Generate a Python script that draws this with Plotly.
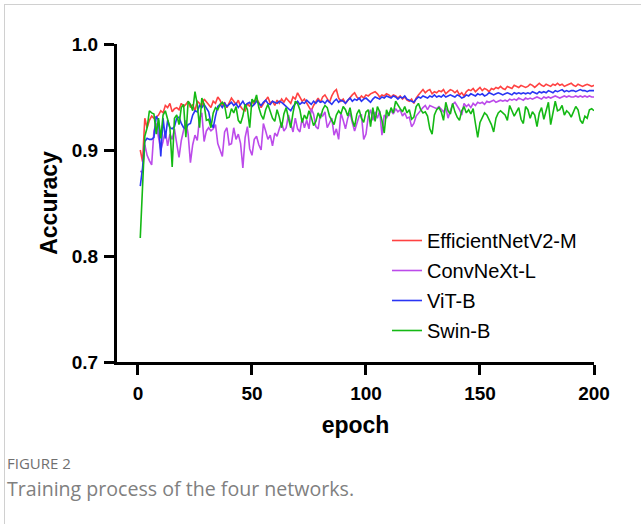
import plotly.graph_objects as go

epochs = list(range(1, 201))

efficientnet = [
    0.900, 0.889, 0.930, 0.921, 0.928, 0.932, 0.930, 0.931, 0.933, 0.937,
    0.935, 0.942, 0.940, 0.944, 0.936, 0.939, 0.940, 0.938, 0.944, 0.941,
    0.943, 0.946, 0.940, 0.943, 0.937, 0.946, 0.944, 0.941, 0.948, 0.945,
    0.943, 0.940, 0.946, 0.944, 0.950, 0.947, 0.942, 0.945, 0.940, 0.944,
    0.949, 0.946, 0.943, 0.947, 0.941, 0.938, 0.937, 0.944, 0.941, 0.946,
    0.943, 0.948, 0.945, 0.940, 0.944, 0.947, 0.950, 0.944, 0.946, 0.942,
    0.947, 0.944, 0.948, 0.945, 0.949, 0.946, 0.944, 0.950, 0.948, 0.954,
    0.950, 0.946, 0.948, 0.944, 0.940, 0.937, 0.942, 0.946, 0.949, 0.945,
    0.950, 0.952, 0.948, 0.945, 0.951, 0.955, 0.957, 0.949, 0.946, 0.948,
    0.944, 0.947, 0.950, 0.952, 0.954, 0.950, 0.948, 0.951, 0.949, 0.952,
    0.951, 0.953, 0.954, 0.955, 0.953, 0.950, 0.952, 0.951, 0.953, 0.952,
    0.950, 0.952, 0.951, 0.949, 0.951, 0.948, 0.950, 0.947, 0.946, 0.948,
    0.944, 0.949, 0.952, 0.955, 0.957, 0.954, 0.956, 0.957, 0.953, 0.955,
    0.954, 0.956, 0.955, 0.957, 0.953, 0.955, 0.957, 0.956, 0.954, 0.956,
    0.952, 0.954, 0.951, 0.955, 0.957, 0.956, 0.958, 0.955, 0.957, 0.959,
    0.956, 0.958, 0.957, 0.955, 0.958, 0.957, 0.959, 0.958, 0.960, 0.958,
    0.957, 0.960, 0.959, 0.958, 0.961, 0.960, 0.959, 0.961, 0.960, 0.959,
    0.960, 0.962, 0.961, 0.959, 0.961, 0.963, 0.961, 0.960, 0.962, 0.961,
    0.960, 0.962, 0.961, 0.963, 0.961, 0.962, 0.960, 0.961, 0.962, 0.963,
    0.961, 0.960, 0.962, 0.961, 0.960, 0.961, 0.962, 0.961, 0.960, 0.961,
]

convnext = [
    0.880, 0.879, 0.905, 0.895, 0.890, 0.886, 0.918, 0.925, 0.912, 0.900,
    0.908, 0.918, 0.904, 0.915, 0.910, 0.920, 0.906, 0.893, 0.909, 0.918,
    0.928, 0.915, 0.888, 0.905, 0.914, 0.909, 0.930, 0.935, 0.908, 0.918,
    0.921, 0.918, 0.920, 0.924, 0.906, 0.900, 0.894, 0.917, 0.921, 0.905,
    0.906, 0.921, 0.910, 0.915, 0.906, 0.883, 0.912, 0.922, 0.901, 0.895,
    0.910, 0.913, 0.905, 0.900, 0.925, 0.918, 0.910, 0.914, 0.904, 0.916,
    0.913, 0.920, 0.926, 0.918, 0.921, 0.933, 0.925, 0.917, 0.930, 0.920,
    0.917, 0.930, 0.921, 0.928, 0.920, 0.939, 0.934, 0.922, 0.920, 0.934,
    0.932, 0.936, 0.921, 0.926, 0.930, 0.914, 0.920, 0.910, 0.935, 0.928,
    0.920, 0.930, 0.935, 0.926, 0.918, 0.925, 0.932, 0.933, 0.910, 0.915,
    0.932, 0.938, 0.928, 0.936, 0.930, 0.937, 0.914, 0.933, 0.930, 0.935,
    0.937, 0.934, 0.939, 0.936, 0.938, 0.932, 0.935, 0.930, 0.931, 0.922,
    0.925, 0.932, 0.935, 0.938, 0.940, 0.942, 0.938, 0.942, 0.941, 0.940,
    0.939, 0.941, 0.938, 0.936, 0.940, 0.930, 0.937, 0.943, 0.945, 0.942,
    0.938, 0.933, 0.944, 0.941, 0.943, 0.940, 0.944, 0.942, 0.945, 0.944,
    0.945, 0.943, 0.946, 0.945, 0.946, 0.947, 0.945, 0.946, 0.947, 0.946,
    0.947, 0.946, 0.948, 0.947, 0.948, 0.947, 0.949, 0.948, 0.947, 0.949,
    0.948, 0.949, 0.948, 0.949, 0.950, 0.949, 0.948, 0.950, 0.949, 0.950,
    0.949, 0.950, 0.951, 0.950, 0.949, 0.950, 0.951, 0.950, 0.951, 0.950,
    0.950, 0.951, 0.950, 0.951, 0.950, 0.951, 0.950, 0.951, 0.950, 0.950,
]

vit = [
    0.866, 0.883, 0.908, 0.911, 0.910, 0.910, 0.912, 0.932, 0.928, 0.894,
    0.930, 0.911, 0.928, 0.921, 0.920, 0.922, 0.930, 0.931, 0.925, 0.921,
    0.920, 0.924, 0.925, 0.933, 0.937, 0.936, 0.942, 0.940, 0.943, 0.940,
    0.936, 0.925, 0.921, 0.932, 0.941, 0.943, 0.940, 0.944, 0.941, 0.943,
    0.945, 0.942, 0.944, 0.940, 0.943, 0.946, 0.942, 0.944, 0.945, 0.941,
    0.943, 0.946, 0.944, 0.942, 0.945, 0.947, 0.944, 0.943, 0.946, 0.945,
    0.944, 0.946, 0.945, 0.943, 0.941, 0.939, 0.937, 0.941, 0.944, 0.946,
    0.943, 0.945, 0.944, 0.947, 0.945, 0.943, 0.946, 0.944, 0.947, 0.945,
    0.946, 0.944, 0.947, 0.945, 0.943, 0.946, 0.948, 0.945, 0.947, 0.946,
    0.944, 0.947, 0.949, 0.946, 0.948, 0.947, 0.949, 0.946, 0.948, 0.949,
    0.947, 0.945, 0.948, 0.950, 0.949, 0.948, 0.950, 0.949, 0.951, 0.950,
    0.949, 0.951, 0.950, 0.948, 0.950, 0.949, 0.951, 0.948, 0.947, 0.946,
    0.945, 0.948, 0.950, 0.949, 0.951, 0.950, 0.949, 0.951, 0.950, 0.952,
    0.950, 0.951, 0.950, 0.952, 0.950, 0.951, 0.952, 0.951, 0.950, 0.952,
    0.951, 0.949, 0.950, 0.952, 0.951, 0.953, 0.952, 0.951, 0.953, 0.952,
    0.953, 0.951, 0.952, 0.954, 0.953, 0.952, 0.953, 0.954, 0.953, 0.952,
    0.953, 0.954, 0.953, 0.952, 0.954, 0.953, 0.954, 0.953, 0.954, 0.953,
    0.954, 0.953, 0.955, 0.954, 0.953, 0.955, 0.954, 0.955, 0.954, 0.956,
    0.955, 0.954, 0.956, 0.955, 0.956, 0.957, 0.955, 0.956, 0.955, 0.956,
    0.956, 0.955, 0.956, 0.957, 0.956, 0.956, 0.955, 0.956, 0.956, 0.956,
]

swin = [
    0.817, 0.874, 0.913, 0.921, 0.937, 0.935, 0.934, 0.915, 0.930, 0.911,
    0.933, 0.937, 0.930, 0.921, 0.884, 0.930, 0.933, 0.924, 0.940, 0.943,
    0.912, 0.946, 0.943, 0.937, 0.955, 0.943, 0.921, 0.949, 0.943, 0.928,
    0.929, 0.921, 0.935, 0.940, 0.938, 0.943, 0.945, 0.942, 0.930, 0.931,
    0.939, 0.935, 0.941, 0.928, 0.925, 0.932, 0.943, 0.938, 0.921, 0.948,
    0.945, 0.952, 0.940, 0.933, 0.929, 0.938, 0.943, 0.936, 0.930, 0.927,
    0.938, 0.931, 0.921, 0.934, 0.940, 0.930, 0.921, 0.935, 0.946, 0.944,
    0.938, 0.926, 0.933, 0.929, 0.937, 0.931, 0.923, 0.927, 0.935, 0.930,
    0.938, 0.942, 0.940, 0.932, 0.928, 0.924, 0.933, 0.937, 0.934, 0.941,
    0.938, 0.932, 0.940, 0.928, 0.922, 0.934, 0.938, 0.930, 0.926, 0.936,
    0.938, 0.922, 0.940, 0.927, 0.941, 0.936, 0.928, 0.916, 0.938, 0.932,
    0.940, 0.935, 0.946, 0.942, 0.939, 0.936, 0.941, 0.935, 0.938, 0.929,
    0.931, 0.941, 0.944, 0.938, 0.935, 0.936, 0.932, 0.920, 0.915, 0.933,
    0.938, 0.940, 0.936, 0.928, 0.945, 0.937, 0.934, 0.944, 0.936, 0.931,
    0.928, 0.937, 0.941, 0.935, 0.938, 0.934, 0.939, 0.925, 0.912, 0.926,
    0.930, 0.935, 0.933, 0.929, 0.924, 0.917, 0.930, 0.935, 0.937, 0.935,
    0.933, 0.928, 0.942, 0.937, 0.932, 0.936, 0.940, 0.929, 0.925, 0.941,
    0.938, 0.930, 0.936, 0.933, 0.922, 0.935, 0.940, 0.929, 0.937, 0.945,
    0.924, 0.934, 0.946, 0.937, 0.938, 0.942, 0.933, 0.937, 0.935, 0.931,
    0.936, 0.941, 0.938, 0.928, 0.925, 0.932, 0.930, 0.938, 0.939, 0.937,
]

series_names = ["EfficientNetV2-M", "ConvNeXt-L", "ViT-B", "Swin-B"]
series_values = [efficientnet, convnext, vit, swin]
series_colors = ["#FF4242", "#BC4BEA", "#2A35F4", "#14B914"]

x_ticks = [0, 50, 100, 150, 200]
y_ticks = [0.7, 0.8, 0.9, 1.0]
y_tick_labels = ["0.7", "0.8", "0.9", "1.0"]

W, H = 641, 524
L, R, T, B = 117, 47, 44, 162
pw, ph = W - L - R, H - T - B

fig = go.Figure()
for name, vals, col in zip(series_names, series_values, series_colors):
    fig.add_trace(go.Scatter(
        x=epochs, y=vals, mode="lines", name=name, legendgroup=name,
        line=dict(color=col, width=1.6),
    ))

def px_x(p):
    return (p - L) / pw

def px_y(p):
    return (H - B - p) / ph

FONT = "Arial, Liberation Sans, sans-serif"

fig.update_layout(
    width=W, height=H,
    margin=dict(l=L, r=R, t=T, b=B),
    paper_bgcolor="white", plot_bgcolor="white",
    font=dict(family=FONT, color="black"),
    showlegend=True,
    legend=dict(
        x=px_x(387), y=px_y(221), xanchor="left", yanchor="top",
        bgcolor="rgba(0,0,0,0)", font=dict(size=20, color="black", family=FONT),
        traceorder="grouped", tracegroupgap=1,
    ),
    xaxis=dict(
        range=[-9.2, 200], tickvals=x_ticks,
        ticktext=["<b>%d</b>" % v for v in x_ticks],
        showgrid=False, zeroline=False,
        showline=True, linecolor="black", linewidth=3,
        ticks="outside", ticklen=10, tickwidth=3, tickcolor="black",
        tickfont=dict(size=19, family=FONT),
        ticklabelstandoff=2,
        title=dict(text="<b>epoch</b>", font=dict(size=23), standoff=15),
    ),
    yaxis=dict(
        range=[0.7, 1.0], tickvals=y_ticks,
        ticktext=["<b>%s</b>" % t for t in y_tick_labels],
        showgrid=False, zeroline=False,
        showline=True, linecolor="black", linewidth=3,
        ticks="outside", ticklen=10, tickwidth=3, tickcolor="black",
        tickfont=dict(size=19, family=FONT),
        ticklabelstandoff=2,
        title=dict(text="<b>Accuracy</b>", font=dict(size=23), standoff=8),
    ),
)

# light frame around the figure (top and left edges)
fig.add_shape(type="line", xref="paper", yref="paper",
              x0=px_x(4), x1=px_x(641), y0=px_y(4.5), y1=px_y(4.5),
              line=dict(color="#D0D0D0", width=1))
fig.add_shape(type="line", xref="paper", yref="paper",
              x0=px_x(4.5), x1=px_x(4.5), y0=px_y(4), y1=px_y(524),
              line=dict(color="#D0D0D0", width=1))

fig.add_annotation(text="FIGURE 2", xref="paper", yref="paper",
                   x=px_x(5), y=px_y(463), xanchor="left", yanchor="middle",
                   showarrow=False,
                   font=dict(family="Open Sans, Noto Sans, sans-serif", size=15, color="#707070"))
fig.add_annotation(text="Training process of the four networks.", xref="paper", yref="paper",
                   x=px_x(5), y=px_y(488), xanchor="left", yanchor="middle",
                   showarrow=False,
                   font=dict(family="Open Sans, Noto Sans, sans-serif", size=19.6, color="#808080"))

fig.write_html("out.html", config={"displayModeBar": False},
               post_script="document.body.style.margin='0';")
